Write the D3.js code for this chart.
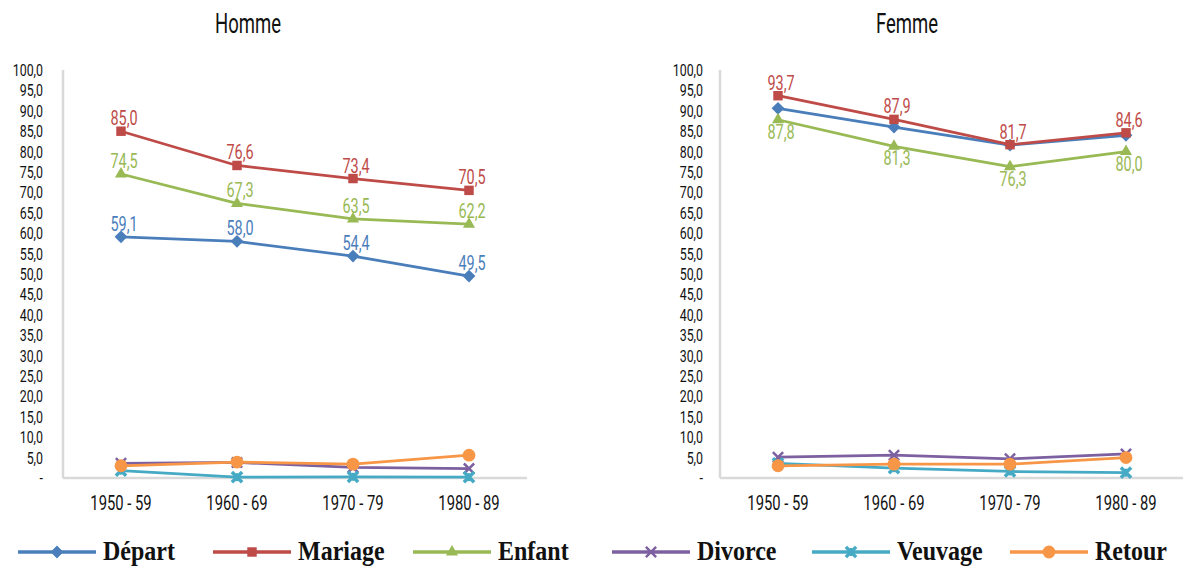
<!DOCTYPE html>
<html>
<head>
<meta charset="utf-8">
<script src="https://cdn.jsdelivr.net/npm/d3@7"></script>
<style>
  html, body { margin: 0; padding: 0; background: #fff; }
  svg { display: block; }
</style>
</head>
<body>
<svg id="chart" width="1183" height="566"></svg>
<script>
// Periods on the x axis
const periods = ["1950 - 59", "1960 - 69", "1970 - 79", "1980 - 89"];

// Y axis ticks (0 to 100 by 5)
const yTicks = [0, 5, 10, 15, 20, 25, 30, 35, 40, 45, 50, 55, 60, 65, 70, 75, 80, 85, 90, 95, 100];

// Panel titles
const panelTitles = ["Homme", "Femme"];

// Series names and colours
const seriesNames = ["Départ", "Mariage", "Enfant", "Divorce", "Veuvage", "Retour"];
const seriesColors = ["#4a7ebb", "#be4b48", "#98b954", "#7d60a0", "#46aac5", "#f79646"];
const seriesSymbols = ["diamond", "square", "triangle", "cross", "star", "circle"];

// Homme values
const hommeDepart  = [59.1, 58.0, 54.4, 49.5];
const hommeMariage = [85.0, 76.6, 73.4, 70.5];
const hommeEnfant  = [74.5, 67.3, 63.5, 62.2];
const hommeDivorce = [3.6, 3.8, 2.6, 2.3];
const hommeVeuvage = [1.8, 0.2, 0.3, 0.2];
const hommeRetour  = [3.0, 3.9, 3.4, 5.6];

// Femme values
const femmeDepart  = [90.6, 86.0, 81.6, 84.0];
const femmeMariage = [93.7, 87.9, 81.7, 84.6];
const femmeEnfant  = [87.8, 81.3, 76.3, 80.0];
const femmeDivorce = [5.1, 5.6, 4.7, 5.9];
const femmeVeuvage = [3.6, 2.4, 1.6, 1.3];
const femmeRetour  = [3.0, 3.4, 3.4, 5.0];

// Which series carry value labels, and where (above / below the marker)
const hommeLabels = { "Départ": "above", "Mariage": "above", "Enfant": "above" };
const femmeLabels = { "Mariage": "above", "Enfant": "below" };

const panels = [
  { title: panelTitles[0], titleX: 248, x0: 63, x1: 527, tickX: 43,
    values: [hommeDepart, hommeMariage, hommeEnfant, hommeDivorce, hommeVeuvage, hommeRetour],
    labels: hommeLabels },
  { title: panelTitles[1], titleX: 907, x0: 720, x1: 1184, tickX: 703,
    values: [femmeDepart, femmeMariage, femmeEnfant, femmeDivorce, femmeVeuvage, femmeRetour],
    labels: femmeLabels }
];

const svg = d3.select("#chart");
const numFont = "Roboto, 'DejaVu Sans', sans-serif";
const fmt = v => v === 0 ? "-" : d3.format(".1f")(v).replace(".", ",");

const y = d3.scaleLinear().domain([0, 100]).range([478, 70]);

// Condensed text helper: places text at (x, y) squeezed horizontally
function ctext(sel, x, yy, txt, size, anchor, color, sx) {
  return sel.append("text")
    .attr("transform", `translate(${x},${yy}) scale(${sx},1)`)
    .attr("text-anchor", anchor)
    .attr("font-family", numFont)
    .attr("font-size", size)
    .attr("fill", color)
    .text(txt);
}

function symbolPath(kind, size) {
  switch (kind) {
    case "diamond": return d3.symbol(d3.symbolDiamond2, size * 1.1)();
    case "square": return d3.symbol(d3.symbolSquare2, size * 1.2)();
    case "triangle": return d3.symbol(d3.symbolTriangle2, size * 1.1)();
    case "circle": return d3.symbol(d3.symbolCircle, size * 1.35)();
    default: return d3.symbol(d3.symbolX, size)();
  }
}

function drawMarker(g, kind, cx, cy, color) {
  const s = 95;
  if (kind === "cross" || kind === "star") {
    const p = g.append("path")
      .attr("d", d3.symbol(d3.symbolX, 70)())
      .attr("transform", `translate(${cx},${cy})`)
      .attr("fill", "none")
      .attr("stroke", color)
      .attr("stroke-width", kind === "star" ? 3.5 : 2.5);
    if (kind === "star") {
      g.append("line").attr("x1", cx).attr("x2", cx)
        .attr("y1", cy - 4).attr("y2", cy + 4)
        .attr("stroke", color).attr("stroke-width", 2.5);
    }
    return p;
  }
  return g.append("path")
    .attr("d", symbolPath(kind, s))
    .attr("transform", `translate(${cx},${cy})`)
    .attr("fill", color);
}

panels.forEach(p => {
  const g = svg.append("g");
  const x = d3.scaleBand().domain(periods).range([p.x0, p.x1]).padding(0);
  const cx = d => x(d) + x.bandwidth() / 2;

  // Title
  ctext(g, p.titleX, 33, p.title, 28, "middle", "#111", 0.66);

  // Axis lines
  g.append("line").attr("x1", p.x0).attr("x2", p.x0).attr("y1", y(100)).attr("y2", y(0))
    .attr("stroke", "#d9d9d9").attr("stroke-width", 2.5);
  g.append("line").attr("x1", p.x0).attr("x2", p.x1).attr("y1", y(0)).attr("y2", y(0))
    .attr("stroke", "#d9d9d9").attr("stroke-width", 2.5);

  // Y tick labels
  yTicks.forEach(t => {
    ctext(g, p.tickX, y(t) + 6, fmt(t), 16.5, "end", "#111", 0.75);
  });

  // X tick labels
  periods.forEach(c => {
    ctext(g, cx(c), 510, c, 20, "middle", "#111", 0.74);
  });

  // Series lines and markers
  const line = d3.line().x((d, i) => cx(periods[i])).y(d => y(d));
  p.values.forEach((vals, si) => {
    const col = seriesColors[si];
    g.append("path").attr("d", line(vals))
      .attr("fill", "none").attr("stroke", col).attr("stroke-width", 2.75)
      .attr("stroke-linejoin", "round");
    vals.forEach((v, i) => drawMarker(g, seriesSymbols[si], cx(periods[i]), y(v), col));
  });

  // Value labels
  p.values.forEach((vals, si) => {
    const pos = p.labels[seriesNames[si]];
    if (!pos) return;
    vals.forEach((v, i) => {
      const yy = pos === "above" ? y(v) - 6 : y(v) + 19;
      ctext(g, cx(periods[i]) + 3, yy, fmt(v), 19.5, "middle", seriesColors[si], 0.74);
    });
  });
});

// Legend
const legendX = [18, 213, 413, 612, 812, 1010];
const lg = svg.append("g");
seriesNames.forEach((name, i) => {
  const lx = legendX[i];
  const ly = 552;
  lg.append("line").attr("x1", lx).attr("x2", lx + 78).attr("y1", ly).attr("y2", ly)
    .attr("stroke", seriesColors[i]).attr("stroke-width", 3.5);
  drawMarker(lg, seriesSymbols[i], lx + 39, ly, seriesColors[i]);
  lg.append("text")
    .attr("transform", `translate(${lx + 85},${ly + 8}) scale(1,1.12)`)
    .attr("font-family", "'Liberation Serif', 'Times New Roman', serif")
    .attr("font-weight", "bold")
    .attr("font-size", 24)
    .attr("fill", "#111")
    .text(name);
});
</script>
</body>
</html>
